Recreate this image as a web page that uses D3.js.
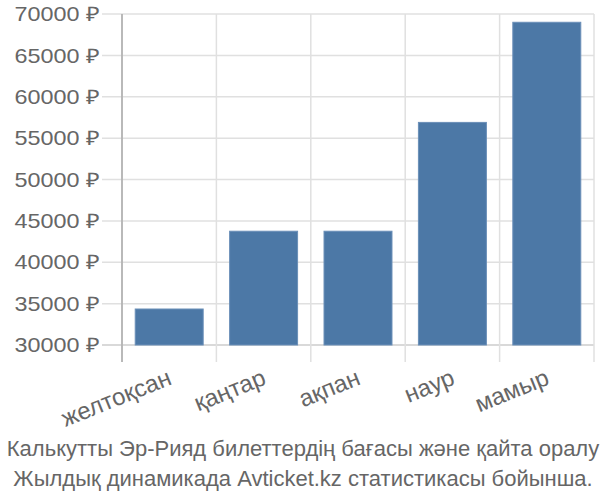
<!DOCTYPE html>
<html><head><meta charset="utf-8">
<script src="https://cdn.jsdelivr.net/npm/d3@7"></script>
<style>body{margin:0;background:#fff}svg{display:block}</style>
</head><body>
<script>
const categories = ["желтоқсан","қаңтар","ақпан","наур","мамыр"];
const values = [34350, 43750, 43750, 56900, 69000];
const yTicks = [30000,35000,40000,45000,50000,55000,60000,65000,70000];
const titleLines = ["Калькутты Эр-Рияд билеттердің бағасы және қайта оралу","Жылдық динамикада Avticket.kz статистикасы бойынша."];

(function(){
const W=600,H=500, mL=122, mR=594, mT=14, mB=345;
const svg=d3.select("body").append("svg").attr("width",W).attr("height",H);
const x=d3.scaleBand().domain(categories).range([mL,mR]).paddingInner(0.28).paddingOuter(0.14);
const y=d3.scaleLinear().domain([30000,70000]).range([mB,mT]);
const font="'Liberation Sans', Arial, sans-serif";

svg.append("g").selectAll("line").data(yTicks).join("line")
 .attr("x1",102).attr("x2",mR).attr("y1",d=>y(d)).attr("y2",d=>y(d))
 .attr("stroke",d=>d===30000?"#ccc":"#e0e0e0").attr("stroke-width",1.5);
const step=(mR-mL)/categories.length;
const vx=d3.range(categories.length+1).map(i=>mL+i*step);
svg.append("g").selectAll("line").data(vx).join("line")
 .attr("x1",d=>d).attr("x2",d=>d).attr("y1",mT).attr("y2",362)
 .attr("stroke","#e0e0e0").attr("stroke-width",1.5);
svg.append("line").attr("x1",mL).attr("x2",mL).attr("y1",mT).attr("y2",362).attr("stroke","#aaa").attr("stroke-width",1.5);

svg.append("g").selectAll("rect").data(values).join("rect")
 .attr("x",(d,i)=>x(categories[i])).attr("width",x.bandwidth())
 .attr("y",d=>y(d)).attr("height",d=>mB-y(d))
 .attr("fill","#4c78a6").attr("stroke","#6a8fb8").attr("stroke-width",1);

svg.append("g").selectAll("text").data(yTicks).join("text")
 .attr("transform",d=>`translate(100,${y(d)}) scale(1.17,1)`)
 .attr("dy","0.36em").attr("text-anchor","end")
 .attr("font-family",font).attr("font-size",20).attr("fill","#666")
 .text(d=>d+" ₽");

svg.append("g").selectAll("text").data(categories).join("text")
 .attr("transform",d=>`translate(${x(d)+x.bandwidth()/2-3},${367}) rotate(-22)`)
 .attr("text-anchor","end").attr("dy","0.75em")
 .attr("font-family",font).attr("font-size",24).attr("fill","#666")
 .text(d=>d);

svg.append("g").selectAll("text").data(titleLines).join("text")
 .attr("x",303).attr("y",(d,i)=>456+i*30).attr("text-anchor","middle")
 .attr("font-family",font).attr("font-size",22).attr("fill","#666")
 .text(d=>d);
})();
</script>
</body></html>
